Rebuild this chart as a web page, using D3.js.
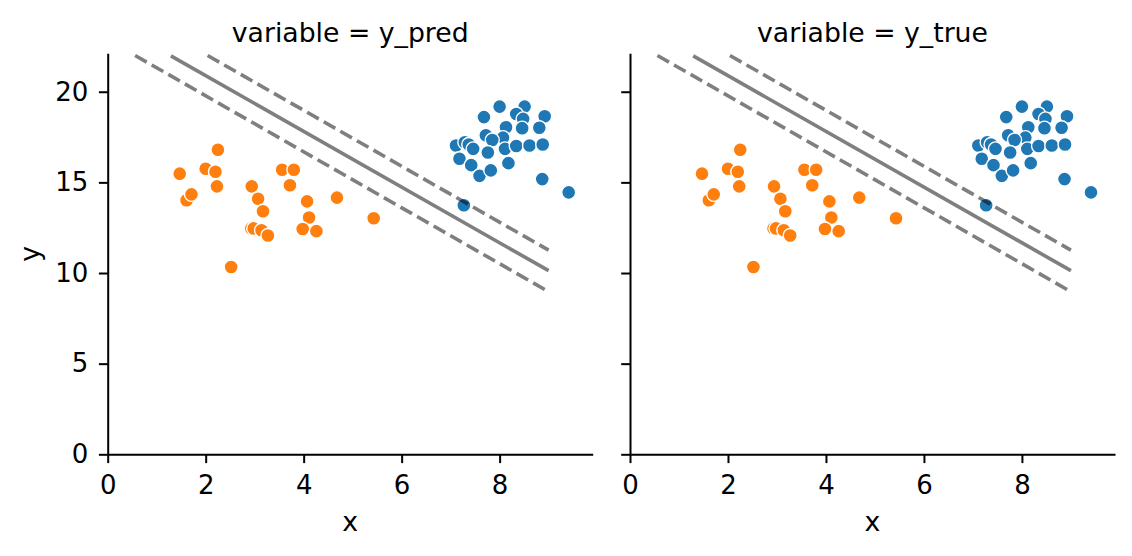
<!DOCTYPE html>
<html>
<head>
<meta charset="utf-8">
<script src="https://cdn.jsdelivr.net/npm/d3@7"></script>
<style>
  body { margin: 0; background: #fff; }
  svg { font-family: "DejaVu Sans", sans-serif; }
</style>
</head>
<body>
<svg id="chart" width="1132" height="556"></svg>
<script>
// facet titles
var panels = ["y_pred", "y_true"];

// class 1 (orange) points
var orangeX = [1.47, 2.00, 2.20, 2.25, 2.23, 1.61, 1.71, 2.94, 3.07, 3.17, 2.93, 2.98,
               3.14, 3.27, 3.56, 3.80, 3.72, 4.07, 4.11, 3.98, 4.26, 4.68, 5.43, 2.52];
var orangeY = [15.48, 15.75, 15.59, 16.80, 14.78, 14.01, 14.34, 14.78, 14.10, 13.41, 12.46, 12.46,
               12.36, 12.07, 15.70, 15.70, 14.84, 13.95, 13.06, 12.43, 12.31, 14.16, 13.02, 10.33];

// class 0 (blue) points
var blueX = [8.00, 8.51, 7.68, 8.34, 8.48, 8.92, 8.13, 8.46, 8.81, 7.72, 8.07, 7.85, 7.11, 7.29,
             7.37, 7.46, 7.76, 8.11, 8.34, 8.61, 8.88, 7.18, 7.42, 7.59, 7.82, 8.18, 8.87, 9.41, 7.27];
var blueY = [19.18, 19.18, 18.60, 18.77, 18.50, 18.65, 18.04, 17.99, 18.01, 17.60, 17.47, 17.34, 17.03, 17.21,
             17.09, 16.85, 16.65, 16.85, 17.01, 17.03, 17.09, 16.30, 15.95, 15.36, 15.66, 16.06, 15.18, 14.45, 13.74];

// decision boundary and margins
var lineDash = [true, false, true];
var lineX0 = [0.56, 1.29, 2.04];
var lineY0 = [22.00, 21.98, 22.00];
var lineX1 = [9.00, 9.00, 9.00];
var lineY1 = [8.97, 10.13, 11.26];

var xTicks = [0, 2, 4, 6, 8];
var yTicks = [0, 5, 10, 15, 20];

var svg = d3.select("#chart");

var panelLeft = [107.7, 630];
var panelWidth = 485;
var plotTop = 53.3;
var plotBottom = 454.3;

var y = d3.scaleLinear().domain([0, 22.12]).range([plotBottom, plotTop]);

function drawPanel(i) {
    var x = d3.scaleLinear().domain([0, 9.9]).range([panelLeft[i], panelLeft[i] + panelWidth]);
    var g = svg.append("g");

    // points
    var pts = [];
    for (var j = 0; j < blueX.length; j++) pts.push({ x: blueX[j], y: blueY[j], c: "#1f77b4" });
    for (var j = 0; j < orangeX.length; j++) pts.push({ x: orangeX[j], y: orangeY[j], c: "#ff7f0e" });

    g.selectAll("circle")
        .data(pts)
        .enter()
        .append("circle")
        .attr("cx", d => x(d.x))
        .attr("cy", d => y(d.y))
        .attr("r", 7)
        .style("fill", d => d.c)
        .style("stroke", "#fff")
        .style("stroke-width", 1.4);

    // lines
    for (var k = 0; k < lineX0.length; k++) {
        g.append("line")
            .attr("x1", x(lineX0[k]))
            .attr("y1", y(lineY0[k]))
            .attr("x2", x(lineX1[k]))
            .attr("y2", y(lineY1[k]))
            .style("stroke", "#000")
            .style("stroke-opacity", 0.5)
            .style("stroke-width", 3.6)
            .style("stroke-dasharray", lineDash[k] ? "13.3,5.8" : null);
    }

    // axes
    var xAxis = d3.axisBottom(x).tickValues(xTicks).tickSize(8.8).tickPadding(12).tickSizeOuter(0);
    var gx = svg.append("g")
        .attr("transform", "translate(0," + plotBottom + ")")
        .call(xAxis);

    var yAxis = d3.axisLeft(y).tickValues(yTicks).tickSize(8.8).tickPadding(10.5).tickSizeOuter(0);
    if (i > 0) yAxis.tickFormat("");
    var gy = svg.append("g")
        .attr("transform", "translate(" + panelLeft[i] + ",0)")
        .call(yAxis);

    [gx, gy].forEach(function (a) {
        a.select(".domain").style("stroke", "#000").style("stroke-width", 2);
        a.selectAll(".tick line").style("stroke", "#000").style("stroke-width", 2);
        a.selectAll(".tick text").style("font-size", "26px").style("fill", "#000")
            .style("font-family", "DejaVu Sans");
    });

    // title
    svg.append("text")
        .attr("x", panelLeft[i] + panelWidth / 2)
        .attr("y", 41.5)
        .attr("text-anchor", "middle")
        .style("font-size", "26.7px")
        .text("variable = " + panels[i]);

    // x label
    svg.append("text")
        .attr("x", panelLeft[i] + panelWidth / 2)
        .attr("y", 531)
        .attr("text-anchor", "middle")
        .style("font-size", "26.7px")
        .text("x");
}

drawPanel(0);
drawPanel(1);

svg.append("text")
    .attr("transform", "translate(39," + (plotTop + plotBottom) / 2 + ") rotate(-90)")
    .attr("text-anchor", "middle")
    .style("font-size", "26.7px")
    .text("y");
</script>
</body>
</html>
